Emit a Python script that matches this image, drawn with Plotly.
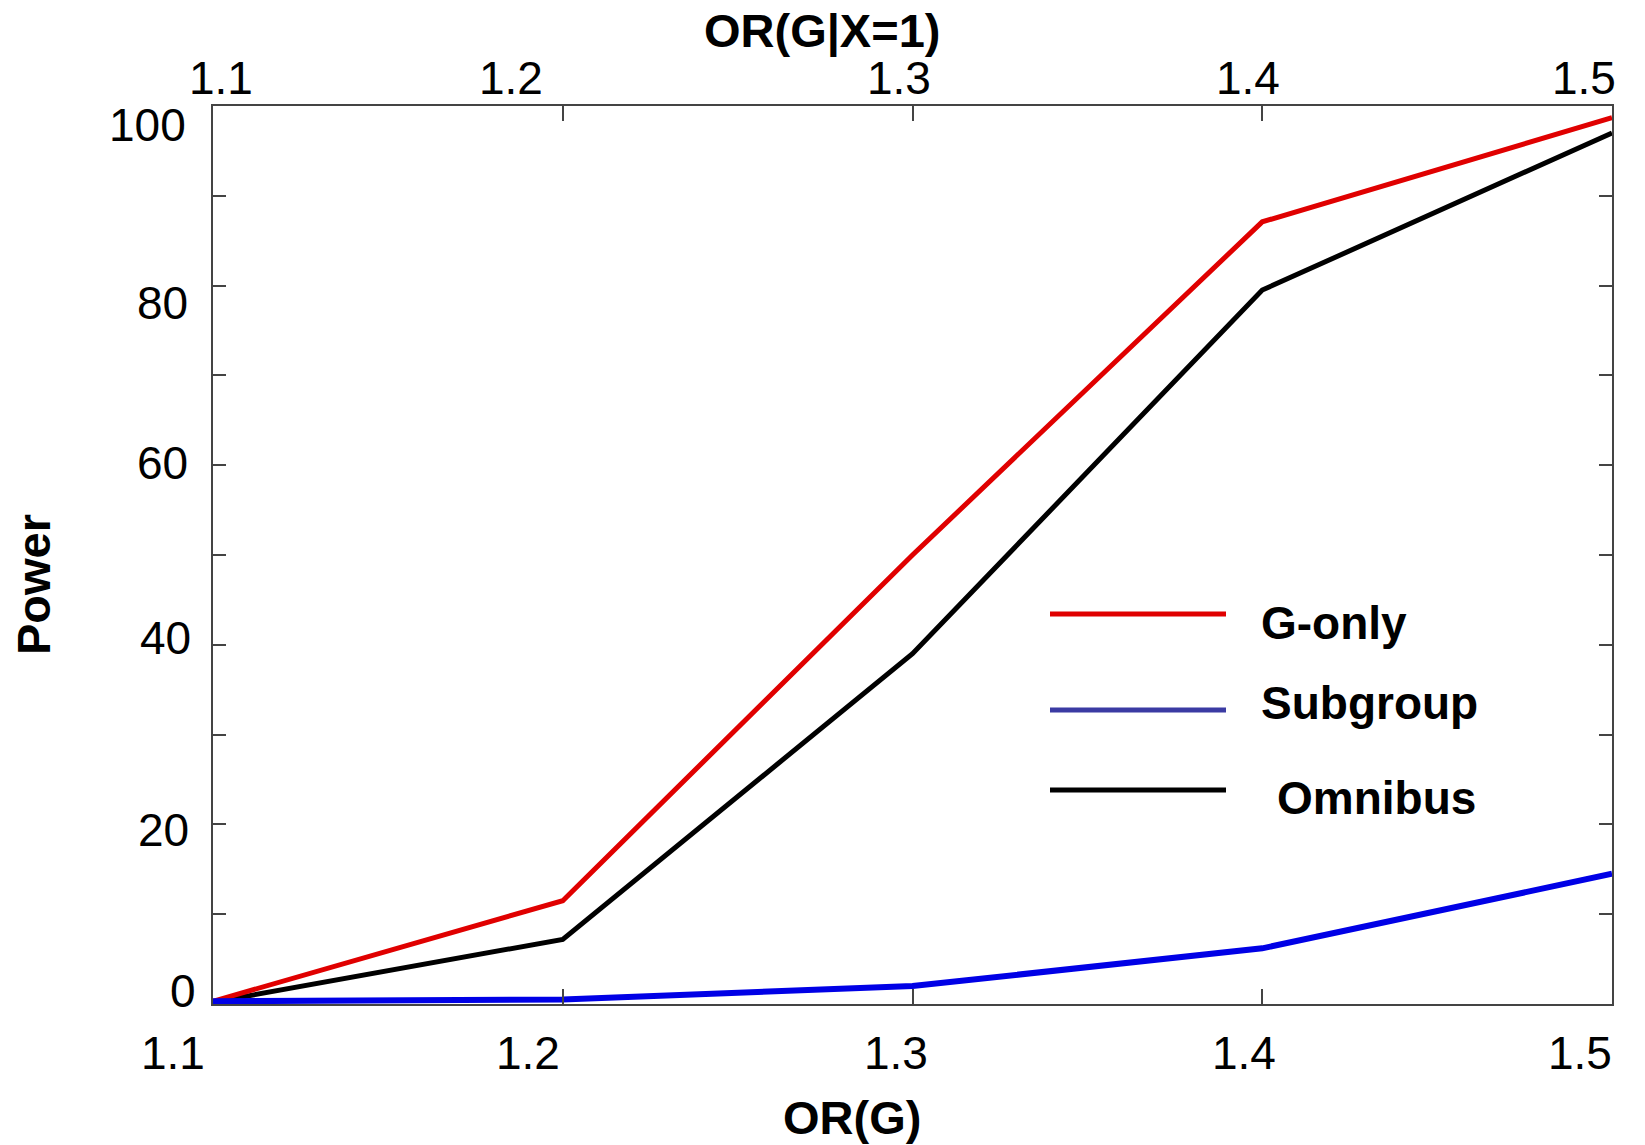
import plotly.graph_objects as go

# Odds ratio for G (bottom axis) and G given X=1 (top axis)
or_g = [1.1, 1.2, 1.3, 1.4, 1.5]
x_tick_labels = ["1.1", "1.2", "1.3", "1.4", "1.5"]

# Power (%) of each test
power_g_only = [0.3, 11.5, 50.0, 87.1, 98.7]
power_subgroup = [0.3, 0.5, 2.0, 6.2, 14.5]
power_omnibus = [0.2, 7.2, 39.0, 79.5, 97.0]

y_tick_values = [0, 20, 40, 60, 80, 100]
y_tick_labels = ["0", "20", "40", "60", "80", "100"]
y_minor_ticks = [0, 10, 20, 30, 40, 50, 60, 70, 80, 90, 100]

series_names = ["G-only", "Subgroup", "Omnibus"]

# ---- page geometry (pixels) ----
W, H = 1645, 1145
L, R, T, B = 213, 1612, 106, 1004
FONT = "Liberation Sans, Arial, sans-serif"


def px_x(p):
    return (p - L) / (R - L)


def px_y(p):
    return (B - p) / (B - T)


RED = "#e00000"
BLUE = "#0000e6"
BLACK = "#000000"
LEGEND_BLUE = "#3b3ba3"

fig = go.Figure()
fig.add_trace(go.Scatter(x=or_g, y=power_omnibus, mode="lines",
                         line=dict(color=BLACK, width=5), name=series_names[2],
                         showlegend=False))
fig.add_trace(go.Scatter(x=or_g, y=power_g_only, mode="lines",
                         line=dict(color=RED, width=5), name=series_names[0],
                         showlegend=False))
fig.add_trace(go.Scatter(x=or_g, y=power_subgroup, mode="lines",
                         line=dict(color=BLUE, width=6), name=series_names[1],
                         showlegend=False))

axis_color = "#444444"
fig.update_xaxes(range=[1.1, 1.5], tickvals=or_g, ticks="inside", ticklen=15,
                 tickwidth=2, tickcolor=axis_color, showticklabels=False,
                 showline=True, linecolor=axis_color, linewidth=2, mirror="ticks",
                 showgrid=False, zeroline=False)
fig.update_yaxes(range=[0, 100], tickvals=y_minor_ticks, ticks="inside", ticklen=13,
                 tickwidth=2, tickcolor=axis_color, showticklabels=False,
                 showline=True, linecolor=axis_color, linewidth=2, mirror="ticks",
                 showgrid=False, zeroline=False)

ann = []
tick_font = dict(family=FONT, size=46, color="black")
title_font = dict(family=FONT, size=47, color="black")
legend_font = dict(family=FONT, size=46, color="black")

# bottom tick labels
bottom_shift = [-40, -35, -17, -18, -32]
for v, t, s in zip(or_g, x_tick_labels, bottom_shift):
    ann.append(dict(x=v, y=0, xref="x", yref="paper", text=t, showarrow=False,
                    xanchor="center", yanchor="middle", xshift=s, yshift=-(1053 - B),
                    font=tick_font))
# top tick labels
top_shift = [8, -52, -14, -14, -28]
for v, t, s in zip(or_g, x_tick_labels, top_shift):
    ann.append(dict(x=v, y=1, xref="x", yref="paper", text=t, showarrow=False,
                    xanchor="center", yanchor="middle", xshift=s, yshift=(T - 78),
                    font=tick_font))
# left tick labels
left_right_edge = [198, 191, 193, 190, 190, 188]
left_dy = [-13, 6, -7, -2, 17, 19]
for v, t, e, d in zip(y_tick_values, y_tick_labels, left_right_edge, left_dy):
    ann.append(dict(x=0, y=v, xref="paper", yref="y", text=t, showarrow=False,
                    xanchor="right", yanchor="middle", xshift=(e - L), yshift=-d,
                    font=tick_font))

# axis titles
ann.append(dict(x=px_x(822), y=px_y(31), xref="paper", yref="paper",
                text="<b>OR(G|X=1)</b>", showarrow=False, xanchor="center",
                yanchor="middle", font=title_font))
ann.append(dict(x=px_x(852), y=px_y(1117), xref="paper", yref="paper",
                text="<b>OR(G)</b>", showarrow=False, xanchor="center",
                yanchor="middle", font=title_font))
ann.append(dict(x=px_x(33), y=px_y(585), xref="paper", yref="paper",
                text="<b>Power</b>", showarrow=False, xanchor="center",
                yanchor="middle", textangle=-90, font=title_font))

# legend: sample lines and labels
legend_line_y = [614, 710, 790]
legend_text_y = [623, 703, 798]
legend_text_x = [1259, 1259, 1275]
legend_colors = [RED, LEGEND_BLUE, BLACK]
shapes = []
for name, ly, ty, tx, c in zip(series_names, legend_line_y, legend_text_y,
                               legend_text_x, legend_colors):
    shapes.append(dict(type="line", xref="paper", yref="paper",
                       x0=px_x(1050), x1=px_x(1226), y0=px_y(ly), y1=px_y(ly),
                       line=dict(color=c, width=5)))
    ann.append(dict(x=px_x(tx), y=px_y(ty), xref="paper", yref="paper",
                    text="<b>" + name + "</b>", showarrow=False, xanchor="left",
                    yanchor="middle", font=legend_font))

fig.update_layout(width=W, height=H, margin=dict(l=L, r=W - R, t=T, b=H - B),
                  paper_bgcolor="white", plot_bgcolor="white",
                  annotations=ann, shapes=shapes, showlegend=False)

fig.write_html("out.html")
